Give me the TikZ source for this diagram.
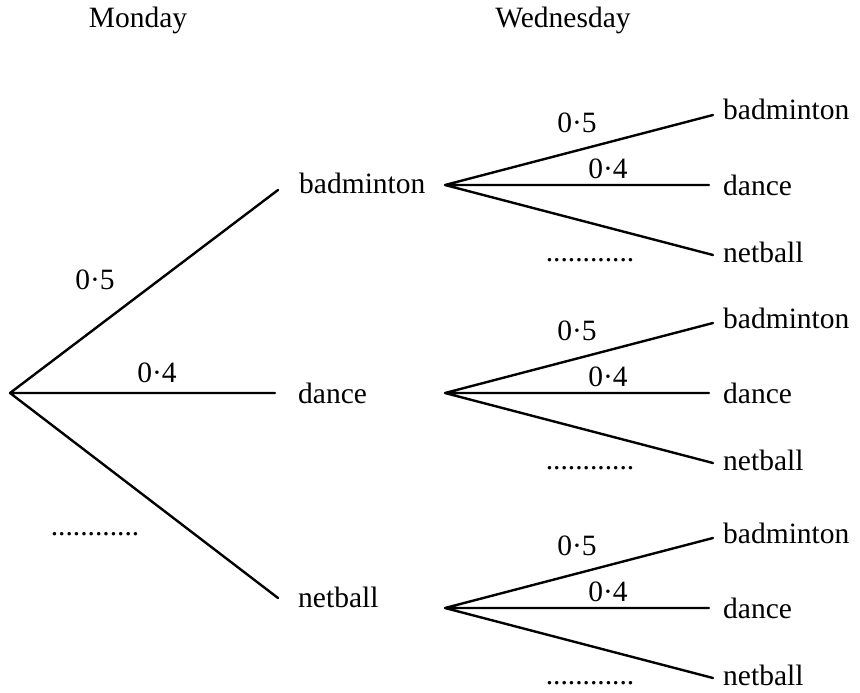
\documentclass[tikz,border=0pt]{standalone}
\usepackage{fontspec}
\setmainfont{Liberation Serif}
\begin{document}
\begin{tikzpicture}[x=1pt,y=-1pt,
  lbl/.style={inner sep=0pt,anchor=base west,font=\fontsize{29.5}{34}\selectfont},
  prob/.style={inner sep=0pt,anchor=base,font=\fontsize{29.5}{34}\selectfont},
  branch/.style={line width=2.4pt,line cap=round,line join=round}]
\useasboundingbox (0,0) rectangle (860,693);
% headings
\node[prob] (mon) at (138,28) {Monday};
\node[prob] (wed) at (563,28) {Wednesday};
% first level
\coordinate (r) at (10,393);
\coordinate (e1) at (278,190);
\coordinate (e2) at (275,393);
\coordinate (e3) at (278,598);
\draw[branch] (e1) -- (r) -- (e2) (r) -- (e3);
\node[lbl] (m1) at (299,193) {badminton};
\node[lbl] (m2) at (298,403) {dance};
\node[lbl] (m3) at (298,607) {netball};
\node[prob] (p15) at (95,289) {0·5};
\node[prob] (p14) at (157,382) {0·4};
\node[prob] (p13) at (95,535) {............};
% second level groups
\foreach \g/\y in {a/185,b/393,c/608}{
  \coordinate (s\g) at (445,\y);
  \coordinate (t\g1) at (713,\y-70);
  \coordinate (t\g2) at (709,\y);
  \coordinate (t\g3) at (713,\y+70);
  \draw[branch] (t\g1) -- (s\g) -- (t\g2) (s\g) -- (t\g3);
  \node[lbl] (w\g1) at (723,\y-65) {badminton};
  \node[lbl] (w\g2) at (723,\y+10) {dance};
  \node[lbl] (w\g3) at (723,\y+77) {netball};
  \node[prob] (q\g5) at (577,\y-53) {0·5};
  \node[prob] (q\g4) at (608,\y-7) {0·4};
  \node[prob] (q\g3) at (590,\y+76) {............};
}
\end{tikzpicture}
\end{document}
